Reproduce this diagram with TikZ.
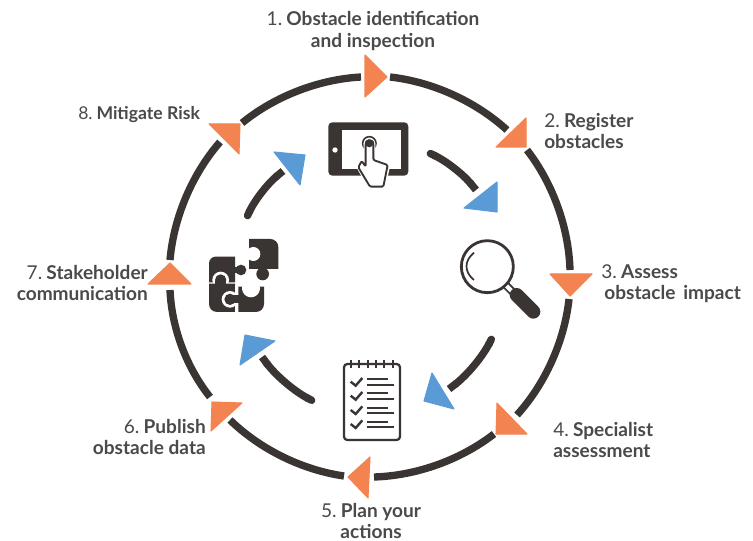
\documentclass[tikz,border=0pt]{standalone}
\usepackage{fontspec}
\setmainfont{Lato}
\usetikzlibrary{arrows.meta}
\definecolor{dk}{HTML}{3A3532}
\definecolor{org}{HTML}{F38350}
\definecolor{blu}{HTML}{5B9BD5}
\definecolor{txt}{HTML}{4A4A4A}
\newcommand{\lb}[2]{{\color{txt}#1\hspace{.22em}\textbf{#2}}}
\tikzset{
 x=.75pt,y=-.75pt,
 outer/.style={draw=dk,line width=5.5pt,bend left=#1,looseness=.85},
 inner/.style={draw=dk,line width=5.6pt,bend left=#1,looseness=.85,arrows={{Round Cap[]}-{Butt Cap[]}}},
 otri/.style={fill=org,draw=org,line width=.8pt,line join=round},
 btri/.style={fill=blu,draw=blu,line width=.8pt,line join=round},
 lab/.style={inner sep=0pt,text=txt,font=\fontsize{14.3pt}{15.9pt}\selectfont},
 icon/.style={x=.25pt,y=-.25pt},
}
\begin{document}
\begin{tikzpicture}
\useasboundingbox[fill=white] (0,0) rectangle (753,541);
% outer ring end points
\coordinate (o1s) at (390,77);  \coordinate (o1e) at (507,130);
\coordinate (o2s) at (527,150); \coordinate (o2e) at (570,270);
\coordinate (o3s) at (569,299); \coordinate (o3e) at (517,415);
\coordinate (o4s) at (494,434); \coordinate (o4e) at (374,477);
\coordinate (o5s) at (344,476); \coordinate (o5e) at (230,420);
\coordinate (o6s) at (210,397); \coordinate (o6e) at (170,290);
\coordinate (o7s) at (170,260); \coordinate (o7e) at (220,142);
\coordinate (o8s) at (242,123); \coordinate (o8e) at (361,77);
\draw[outer=18] (o1s) to (o1e);
\draw[outer=18] (o2s) to (o2e);
\draw[outer=18] (o3s) to (o3e);
\draw[outer=18] (o4s) to (o4e);
\draw[outer=18] (o5s) to (o5e);
\draw[outer=18] (o6s) to (o6e);
\draw[outer=18] (o7s) to (o7e);
\draw[outer=18] (o8s) to (o8e);
% inner arcs
\coordinate (i1s) at (427,152); \coordinate (i1e) at (476,190);
\coordinate (i2s) at (493,336); \coordinate (i2e) at (449,389);
\coordinate (i3s) at (315,402); \coordinate (i3e) at (262,357);
\coordinate (i4s) at (246,219); \coordinate (i4e) at (283,171);
\draw[inner=13] (i1s) to (i1e);
\draw[inner=13] (i2s) to (i2e);
\draw[inner=13] (i3s) to (i3e);
\draw[inner=13] (i4s) to (i4e);
% orange triangles
\fill[otri] (365,55) -- (387,77) -- (365,97) -- cycle;
\fill[otri] (496,147) -- (526,118) -- (526,147) -- cycle;
\fill[otri] (550,274) -- (592,274) -- (570,296) -- cycle;
\fill[otri] (497,403) -- (527,434) -- (496,434) -- cycle;
\fill[otri] (348,477) -- (370,457) -- (368,498) -- cycle;
\fill[otri] (212,402) -- (242,403) -- (211,431) -- cycle;
\fill[otri] (170,263) -- (191,284) -- (148,284) -- cycle;
\fill[otri] (209,124) -- (240,124) -- (239,154) -- cycle;
% blue triangles
\fill[btri] (497,182) -- (497,212) -- (464,208) -- cycle;
\fill[btri] (432,373) -- (454,409) -- (424,401) -- cycle;
\fill[btri] (245,335) -- (275,341) -- (240,365) -- cycle;
\fill[btri] (274,152) -- (305,155) -- (300,185) -- cycle;
% tablet
\begin{scope}[shift={(320,110)},icon]
\fill[dk,rounded corners=3pt] (25,37) rectangle (265,197);
\fill[white] (65,60) rectangle (243,178);
\fill[white] (45,120) circle[radius=8];
\draw[dk,line width=1.2pt] (148,100) circle[radius=20];
\fill[dk] (148,100) circle[radius=12];
\draw[white,line width=3pt,fill=white,line join=round] (137,100) -- (160,100) -- (160,150) -- (205,165) -- (190,232) -- (150,232) -- (115,170) -- (125,150) -- (137,170) -- cycle;
\draw[dk,line width=1.4pt,fill=white,line join=round,rounded corners=1pt] (137,170) -- (137,100) .. controls (140,90) and (157,90) .. (160,100) -- (160,150) -- (203,165) -- (190,230) -- (150,230) -- (115,172) -- (125,153) -- cycle;
\fill[dk] (148,100) circle[radius=12];
\end{scope}
% magnifier
\begin{scope}[shift={(450,230)},icon]
\draw[dk,line width=2.1pt] (112,110) circle[radius=78];
\draw[dk,line width=1.3pt] (72,68) .. controls (42,92) and (42,126) .. (72,150);
\draw[dk,line width=6pt] (168,166) -- (190,188);
\draw[white,line width=3.2pt] (170,168) -- (190,188);
\draw[dk,line width=10.5pt,line cap=round] (200,195) -- (250,245);
\end{scope}
% checklist
\begin{scope}[shift={(320,350)},icon]
\draw[dk,line width=1.7pt,rounded corners=2.5pt] (72,42) rectangle (240,270);
\foreach \x in {93,118,143,168,193,218}
  \draw[dk,line width=1.7pt] (\x,30) -- (\x,55);
\foreach \y in {0,42,85,127} {
  \draw[dk,line width=1.8pt] (92,95+\y) -- (107,107+\y) -- (127,84+\y);
  \draw[dk,line width=1.5pt] (140,88+\y) -- (205,88+\y);
  \draw[dk,line width=1.5pt] (140,104+\y) -- (222,104+\y);
}
\end{scope}
% puzzle
\begin{scope}[shift={(190,220)},icon]
% top-right piece
\fill[dk] (177,147) -- (177,57) [rounded corners=6pt] -- (265,57) [sharp corners] -- (265,147) -- cycle;
\fill[dk] (218,162) circle[radius=19];
\fill[white] (190,102) circle[radius=21];
% top-left piece
\fill[dk] (57,187) [rounded corners=5pt] -- (57,110) [sharp corners] -- (135,110) -- (135,187) -- cycle;
\fill[dk] (130,140) rectangle (150,160);
\fill[dk] (153,150) circle[radius=16];
\fill[white] (92,180) circle[radius=25];
% bottom-left piece
\fill[dk] (57,191) [rounded corners=6pt] -- (57,276) [sharp corners] -- (135,276) -- (135,191) -- cycle;
\fill[dk] (92,180) circle[radius=17];
\fill[dk] (75,182) rectangle (109,195);
% bottom-right piece
\fill[white] (120,238) circle[radius=25];
\fill[white] (135,195) rectangle (145,280);
\fill[dk] (145,200) -- (145,276) [rounded corners=6pt] -- (222,276) [sharp corners] -- (222,200) -- cycle;
\fill[dk] (120,238) circle[radius=17];
\fill[dk] (125,226) rectangle (150,250);
\begin{scope}
\clip (140,200) rectangle (230,240);
\fill[white] (183,205) circle[radius=27];
\end{scope}
\end{scope}
% labels
\node[lab,align=center] (l1) at (373,31) {\lb{1.}{Obstacle identification}\\\textbf{and inspection}};
\node[lab,align=left,anchor=west] (l2) at (544,131) {\lb{2.}{Register}\\\textbf{obstacles}};
\node[lab,align=left,anchor=west] (l3) at (601,284) {\lb{3.}{Assess}\\\textbf{\,obstacle\, impact}};
\node[lab,align=left,anchor=west] (l4) at (553,440) {\lb{4.}{Specialist}\\\textbf{assessment}};
\node[lab,align=center] (l5) at (371,521) {\lb{5.}{Plan your}\\\textbf{actions}};
\node[lab,align=right,anchor=east] (l6) at (206,437) {\lb{6.}{Publish}\\\textbf{obstacle data}};
\node[lab,align=right,anchor=east] (l7) at (148,283) {\lb{7.}{Stakeholder}\\\textbf{communication}};
\node[lab,anchor=west,font=\fontsize{13.2pt}{15.9pt}\selectfont] (l8) at (78,115) {\lb{8.}{Mitigate Risk}};
\end{tikzpicture}
\end{document}
